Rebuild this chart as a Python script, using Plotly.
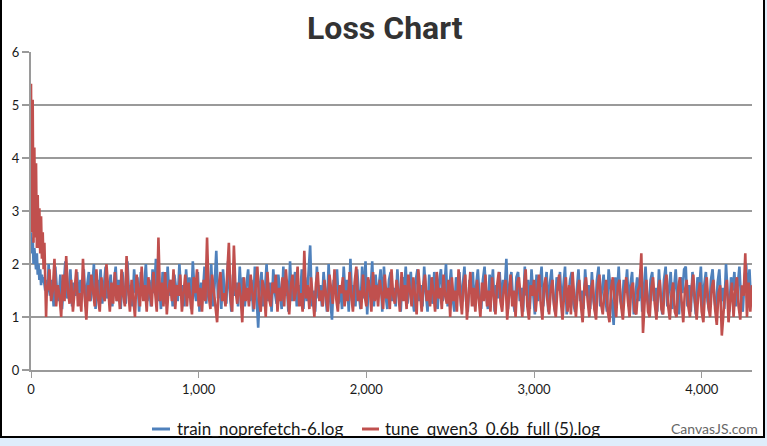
import plotly.graph_objects as go

# ---------------- data ----------------
early_steps = list(range(0, 101, 5))
red_main_steps = list(range(110, 4301, 10))
blue_main_steps = list(range(105, 4296, 10))

blue_early = [2.6, 2.2, 2.5, 2.0, 2.3, 2.1, 1.9, 2.2, 1.8, 2.0, 1.7,
              1.9, 1.6, 1.8, 1.65, 1.75, 1.6, 1.5, 1.7, 1.4, 1.55]
red_early = [5.4, 2.6, 5.1, 2.4, 4.2, 2.5, 3.9, 2.3, 3.3, 2.3, 3.05,
             2.2, 2.9, 2.1, 2.6, 1.9, 2.4, 1.7, 1.0, 1.6, 1.5]

red_main = [
    1.9, 1.3, 1.5, 2.1, 1.2, 1.6, 1.4, 1.0, 1.8, 1.3, 2.15, 1.5, 1.25, 1.7, 1.1, 1.6, 1.9, 1.2, 1.45, 1.1,
    2.1, 1.4, 0.95, 1.6, 1.3, 1.8, 1.5, 1.2, 1.9, 1.35, 1.1, 1.75, 1.4, 1.3, 2.0, 1.5, 1.1, 1.65, 1.25, 1.85,
    1.3, 1.6, 1.15, 1.9, 1.4, 1.2, 2.15, 1.5, 1.1, 1.7, 1.35, 1.0, 1.8, 1.45, 1.2, 1.95, 1.3, 1.6, 1.1, 1.75,
    1.4, 1.2, 1.85, 1.5, 1.1, 2.5, 1.3, 1.65, 1.2, 1.85, 1.05, 1.5, 1.7, 1.3, 1.9, 1.15, 1.6, 1.4, 1.8, 1.1,
    1.5, 1.8, 1.2, 1.65, 1.35, 1.05, 1.75, 1.45, 1.9, 1.2, 1.55, 1.1, 1.7, 1.3, 2.5, 1.4, 1.15, 1.8, 1.5, 1.25,
    0.9, 1.6, 1.85, 1.3, 1.45, 1.2, 1.7, 2.4, 1.35, 1.1, 2.35, 1.5, 1.25, 1.65, 1.4, 0.9, 1.75, 1.3, 1.55, 1.2,
    1.8, 1.4, 1.15, 1.6, 1.95, 1.3, 1.1, 1.7, 1.5, 1.0, 1.85, 1.35, 1.2, 1.65, 1.45, 1.8, 1.1, 1.55, 1.3, 1.75,
    1.2, 1.9, 1.4, 1.05, 1.6, 1.8, 1.3, 1.5, 1.95, 1.2, 1.45, 1.1, 2.25, 1.35, 1.6, 1.15, 1.75, 1.4, 1.0, 1.65,
    1.85, 1.3, 1.5, 1.2, 1.7, 1.4, 1.1, 1.8, 1.55, 1.25, 1.9, 1.35, 1.1, 1.6, 1.45, 1.75, 1.2, 1.5, 1.3, 1.85,
    1.4, 1.1, 1.65, 1.95, 1.3, 1.5, 1.15, 1.8, 1.4, 1.2, 1.75, 1.55, 1.1, 1.85, 1.3, 1.6, 1.2, 1.7, 1.45, 1.15,
    1.8, 1.35, 1.55, 1.15, 1.9, 1.4, 1.25, 1.7, 1.5, 1.1, 1.85, 1.3, 1.6, 1.15, 1.8, 1.45, 1.2, 1.75, 1.35, 1.05,
    1.9, 1.4, 1.1, 1.6, 1.8, 1.3, 1.5, 1.2, 1.75, 1.45, 1.1, 1.85, 1.35, 1.55, 1.15, 1.8, 1.4, 1.25, 1.7, 1.0,
    1.75, 1.3, 1.5, 1.1, 1.9, 1.4, 1.05, 1.6, 1.8, 0.95, 1.45, 1.85, 1.2, 1.55, 1.1, 1.7, 1.35, 1.0, 1.65, 1.3,
    1.8, 1.2, 1.5, 1.1, 1.75, 1.4, 1.05, 1.6, 1.85, 1.3, 1.1, 1.55, 1.7, 0.95, 1.4, 1.8, 1.2, 1.5, 1.0, 1.65,
    1.75, 1.3, 1.0, 1.55, 1.9, 1.2, 0.95, 1.6, 1.4, 1.7, 1.1, 1.5, 1.8, 1.25, 0.95, 1.6, 1.75, 1.3, 1.05, 1.5,
    1.7, 1.2, 1.0, 1.55, 1.8, 1.3, 0.95, 1.45, 1.75, 1.1, 1.6, 1.05, 1.85, 1.35, 1.0, 1.5, 1.7, 1.2, 0.9, 1.55,
    1.75, 1.3, 1.0, 1.5, 1.7, 1.15, 0.95, 1.6, 1.8, 1.25, 1.05, 1.45, 1.7, 1.1, 0.9, 1.55, 1.75, 1.3, 1.0, 1.6,
    1.7, 1.2, 0.95, 1.45, 1.75, 1.3, 1.0, 1.55, 1.65, 1.1, 1.05, 1.5, 1.6, 2.2, 0.7, 1.3, 1.7, 1.1, 1.0, 1.55,
    1.75, 1.25, 0.95, 1.5, 1.7, 1.15, 1.05, 1.6, 1.8, 1.2, 0.95, 1.45, 1.65, 1.1, 1.0, 1.55, 1.75, 1.3, 0.9, 1.5,
    1.7, 1.2, 1.0, 1.55, 1.8, 1.3, 0.95, 1.45, 1.65, 1.1, 0.9, 1.5, 1.75, 1.2, 1.0, 1.55, 1.7, 1.15, 0.85, 1.45,
    1.6, 0.65, 1.1, 1.5, 1.7, 0.9, 1.3, 1.65, 1.0, 1.5, 1.75, 1.2, 0.95, 1.6, 1.4, 2.2, 1.0, 1.65, 1.1, 1.6,
]

blue_main = [
    2.0, 1.4, 1.7, 1.2, 1.95, 1.5, 1.3, 1.8, 1.15, 1.6, 2.05, 1.35, 1.5, 1.9, 1.2, 1.65, 1.4, 1.85, 1.25, 1.7,
    1.5, 1.9, 1.2, 1.6, 1.85, 1.3, 1.55, 2.0, 1.15, 1.7, 1.4, 1.9, 1.25, 1.6, 1.95, 1.35, 1.5, 1.8, 1.2, 1.65,
    1.95, 1.3, 1.7, 1.15, 1.85, 1.5, 1.25, 2.05, 1.4, 1.6, 1.2, 1.9, 1.45, 1.75, 1.1, 1.85, 1.4, 1.6, 2.0, 1.3,
    1.7, 1.2, 1.9, 1.45, 2.1, 1.3, 1.6, 1.15, 1.85, 1.5, 1.25, 1.95, 1.4, 1.7, 1.2, 1.8, 1.55, 1.3, 2.0, 1.45,
    1.6, 1.2, 1.9, 1.4, 1.75, 1.15, 2.05, 1.5, 1.3, 1.85, 1.1, 1.65, 1.45, 1.95, 1.25, 1.7, 1.4, 2.0, 1.2, 1.6,
    2.25, 1.35, 1.7, 1.15, 1.9, 1.45, 1.25, 2.05, 1.5, 1.1, 1.8, 1.4, 1.65, 1.2, 1.95, 1.35, 1.75, 1.2, 1.6, 1.9,
    1.3, 1.7, 1.1, 1.95, 1.4, 0.8, 1.6, 1.85, 1.2, 1.5, 2.0, 1.3, 1.65, 1.1, 1.9, 1.45, 1.25, 1.8, 1.5, 1.15,
    1.95, 1.4, 1.7, 1.1, 2.05, 1.3, 1.55, 1.85, 1.2, 1.6, 1.4, 1.9, 1.15, 1.75, 1.3, 1.85, 2.35, 1.2, 1.5, 1.1,
    1.95, 1.35, 1.6, 1.2, 1.85, 1.45, 1.1, 2.0, 1.3, 0.95, 1.7, 1.5, 1.9, 1.25, 1.6, 1.15, 1.95, 1.4, 1.7, 1.1,
    2.1, 1.3, 1.6, 1.2, 1.9, 1.45, 1.15, 1.95, 1.35, 2.05, 1.05, 1.7, 1.5, 2.05, 1.2, 1.8, 1.4, 1.6, 1.9, 1.1,
    1.95, 1.4, 1.15, 1.7, 1.85, 1.3, 1.55, 1.2, 1.9, 1.4, 1.1, 1.75, 1.5, 1.95, 1.25, 1.6, 1.85, 1.35, 1.1, 1.7,
    1.9, 1.3, 1.6, 1.2, 1.95, 1.45, 1.1, 1.8, 1.5, 1.25, 1.85, 1.4, 1.15, 1.7, 1.9, 1.3, 1.55, 2.0, 1.2, 1.6,
    1.9, 1.35, 1.1, 1.75, 1.5, 1.85, 1.2, 1.6, 1.95, 1.3, 1.1, 1.7, 1.45, 1.85, 1.2, 1.6, 1.9, 1.35, 1.15, 1.7,
    1.95, 1.4, 1.15, 1.8, 1.5, 1.9, 1.1, 1.6, 1.35, 1.85, 1.2, 1.7, 1.5, 2.1, 1.15, 1.6, 1.85, 1.3, 1.1, 1.75,
    1.85, 1.3, 1.55, 1.1, 1.95, 1.4, 1.7, 1.15, 1.9, 1.45, 1.05, 1.8, 1.3, 1.6, 1.95, 1.2, 1.5, 1.85, 1.1, 1.65,
    1.9, 1.35, 1.1, 1.75, 1.5, 1.85, 1.2, 1.6, 1.95, 1.05, 1.4, 1.7, 1.85, 1.25, 1.1, 1.6, 1.9, 1.3, 1.5, 1.15,
    1.9, 1.4, 1.6, 1.15, 1.85, 1.3, 1.1, 1.7, 1.95, 1.2, 1.5, 1.8, 1.35, 1.1, 1.9, 1.6, 1.25, 0.85, 1.75, 1.4,
    1.95, 1.3, 1.15, 1.7, 1.5, 1.9, 1.2, 1.6, 1.85, 1.05, 1.45, 1.75, 1.3, 1.9, 1.1, 1.6, 1.95, 1.35, 1.15, 1.7,
    1.85, 1.3, 1.55, 1.1, 1.9, 1.4, 1.05, 1.7, 1.95, 1.2, 1.5, 1.85, 1.15, 1.6, 1.9, 1.3, 1.05, 1.75, 1.45, 1.9,
    1.95, 1.2, 1.6, 1.1, 1.85, 1.4, 1.05, 1.75, 1.5, 1.95, 1.15, 1.6, 1.85, 1.3, 1.1, 1.7, 1.9, 1.35, 1.1, 1.65,
    1.9, 1.3, 1.55, 1.15, 2.0, 1.4, 1.1, 1.75, 1.5, 1.85, 1.2, 1.6, 1.95, 1.3, 1.1, 1.7, 2.0, 1.4, 1.9, 1.2,
]

series_names = ["train_noprefetch-6.log", "tune_qwen3_0.6b_full (5).log"]
x_tickvals = [0, 1000, 2000, 3000, 4000]
x_ticktext = ["0", "1,000", "2,000", "3,000", "4,000"]
y_tickvals = [0, 1, 2, 3, 4, 5, 6]

# ---------------- styling ----------------
BLUE = "#4F81BC"
RED = "#C0504E"
W, H = 767, 446
L, R, T, B = 31, 752, 52, 370  # plot area in pixels


def px_x(p):
    return (p - L) / (R - L)


def px_y(p):
    return (B - p) / (B - T)


fig = go.Figure()
fig.add_trace(go.Scatter(x=early_steps + blue_main_steps, y=blue_early + blue_main,
                         mode="lines", line=dict(color=BLUE, width=2.6),
                         name=series_names[0], showlegend=False))
fig.add_trace(go.Scatter(x=early_steps + red_main_steps, y=red_early + red_main,
                         mode="lines", line=dict(color=RED, width=2.6),
                         name=series_names[1], showlegend=False))

tick_font = dict(family="Lato, 'Liberation Sans', sans-serif", size=13, color="#1a1a1a")

fig.update_layout(
    width=W, height=H,
    margin=dict(l=L, r=W - R, t=T, b=H - B, pad=0),
    paper_bgcolor="#DFEDFB",
    plot_bgcolor="rgba(0,0,0,0)",
    showlegend=False,
    xaxis=dict(range=[0, 4300], tickvals=x_tickvals, ticktext=x_ticktext,
               showgrid=False, zeroline=False, showline=True, linecolor="#9a9a9a",
               linewidth=2, ticks="outside", ticklen=6, tickcolor="#9a9a9a",
               tickwidth=1, tickfont=tick_font, automargin=False),
    yaxis=dict(range=[0, 6], tickvals=y_tickvals, showgrid=True, gridcolor="#9a9a9a",
               gridwidth=2, zeroline=False, showline=True, linecolor="#9a9a9a",
               linewidth=2, ticks="outside", ticklen=7, tickcolor="#9a9a9a",
               tickwidth=2, tickfont=tick_font, automargin=False),
)

# white card with black border behind the chart
fig.add_shape(type="rect", xref="paper", yref="paper",
              x0=px_x(1), x1=px_x(764), y0=px_y(437), y1=px_y(-20),
              line=dict(color="#000000", width=2), fillcolor="#ffffff", layer="below")

# title
fig.add_annotation(text="<b>Loss Chart</b>", xref="paper", yref="paper",
                   x=px_x(385), y=px_y(28), xanchor="center", yanchor="middle",
                   showarrow=False,
                   font=dict(family="Roboto, 'Liberation Sans', sans-serif",
                             size=32, color="#333333"))

# legend (drawn manually to match the short symbol lines)
leg_font = dict(family="Lato, 'Liberation Sans', sans-serif", size=17, color="#1a1a1a")
for x0, x1, tx, color, name in [(152, 170, 175, BLUE, series_names[0]),
                                (362, 379, 383, RED, series_names[1])]:
    fig.add_shape(type="line", xref="paper", yref="paper",
                  x0=px_x(x0), x1=px_x(x1), y0=px_y(429), y1=px_y(429),
                  line=dict(color=color, width=3))
    fig.add_annotation(text=name, xref="paper", yref="paper", x=px_x(tx), y=px_y(428),
                       xanchor="left", yanchor="middle", showarrow=False, font=leg_font)

# credit
fig.add_annotation(text="CanvasJS.com", xref="paper", yref="paper", x=px_x(760), y=px_y(428),
                   xanchor="right", yanchor="middle", showarrow=False,
                   font=dict(family="Lato, 'Liberation Sans', sans-serif", size=14, color="#666666"))

fig.write_html("out.html", config={"displayModeBar": False},
               post_script="document.body.style.margin='0';document.body.style.overflow='hidden';")
